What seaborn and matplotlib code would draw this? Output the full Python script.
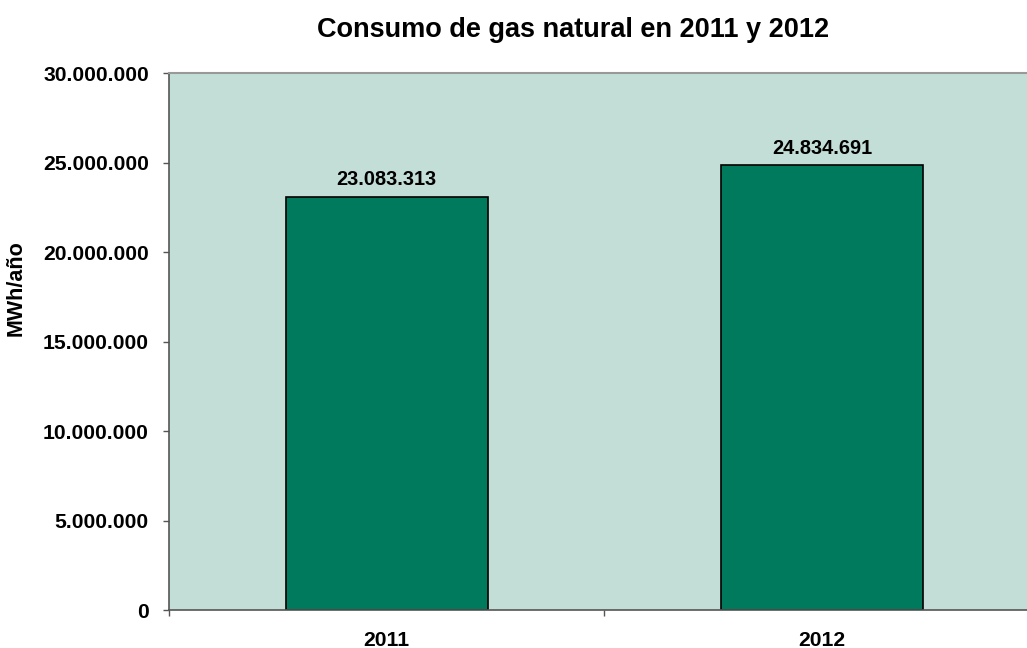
import seaborn as sns
import pandas as pd
import matplotlib.pyplot as plt
from matplotlib.ticker import FuncFormatter, FixedLocator

years = ['2011', '2012']
consumo = [23083313, 24834691]

df = pd.DataFrame({'year': years, 'consumo': consumo})

sns.set_style('white')
plt.rcParams['font.family'] = ['Liberation Sans', 'DejaVu Sans']
plt.rcParams['font.weight'] = 'bold'
plt.rcParams['text.color'] = 'black'
plt.rcParams['axes.labelcolor'] = 'black'
plt.rcParams['xtick.labelcolor'] = 'black'
plt.rcParams['ytick.labelcolor'] = 'black'

fig = plt.figure(figsize=(10.27, 6.48), dpi=100)
# plot area runs a little past the right edge, as in the original
ax = fig.add_axes([0.1646, 0.0586, 0.848, 0.8287])
ax.set_facecolor('#C2DED6')

sns.barplot(x='year', y='consumo', data=df, color='#007A5C', width=0.464,
            edgecolor='black', linewidth=1.2, saturation=1, ax=ax)

def miles(v, pos=None):
    return f'{int(v):,}'.replace(',', '.')

for i, v in enumerate(consumo):
    ax.text(i, v + 420000, miles(v), ha='center', va='bottom',
            fontsize=14.4, fontweight='bold')

ax.set_xlim(-0.5, 1.5)
ax.set_ylim(0, 30000000)
ax.set_yticks(range(0, 30000001, 5000000))
ax.yaxis.set_major_formatter(FuncFormatter(miles))
ax.tick_params(axis='y', length=4.5, width=1, color='#555555', labelsize=15.2, pad=10, left=True)
ax.tick_params(axis='x', which='major', length=0, labelsize=15.2, pad=15)
ax.xaxis.set_minor_locator(FixedLocator([-0.5, 0.5, 1.5]))
ax.tick_params(axis='x', which='minor', length=4.5, width=1, color='#555555', bottom=True)

for s in ['left', 'bottom']:
    ax.spines[s].set_color('#555555')
    ax.spines[s].set_linewidth(1.2)
ax.spines['top'].set_color('#999999')
ax.spines['top'].set_linewidth(1.5)
ax.spines['right'].set_visible(False)

ax.set_xlabel('')
ax.set_ylabel('MWh/año', fontsize=15.5, fontweight='bold')
ax.yaxis.set_label_coords(-0.163, 0.60)
fig.text(0.5584, 0.954, 'Consumo de gas natural en 2011 y 2012', fontsize=19.5,
         fontweight='bold', ha='center', va='center')

fig.savefig('out.png', dpi=100)
